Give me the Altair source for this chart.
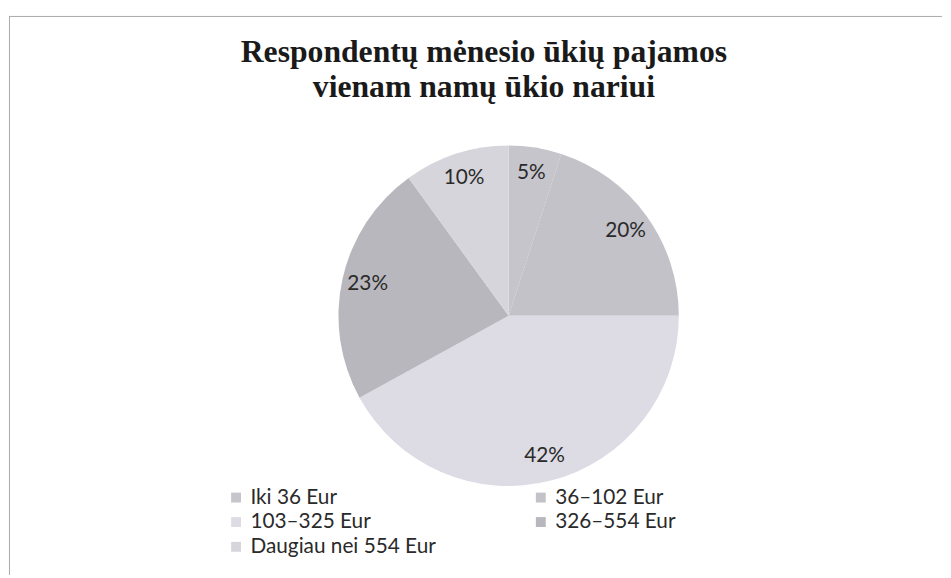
import altair as alt
import pandas as pd

categories = ["Iki 36 Eur", "36–102 Eur", "103–325 Eur", "326–554 Eur", "Daugiau nei 554 Eur"]
shares = [5, 20, 42, 23, 10]
colors = ["#c6c5cb", "#c3c2c8", "#dddbe4", "#b8b7bd", "#d6d5db"]
legend_order = ["Iki 36 Eur", "103–325 Eur", "Daugiau nei 554 Eur", "36–102 Eur", "326–554 Eur"]
title_lines = ["Respondentų mėnesio ūkių pajamos", "vienam namų ūkio nariui"]

df = pd.DataFrame({"cat": categories, "share": shares, "idx": list(range(len(categories)))})

W, H = 943, 570
CX, CY = 505, 308

base = alt.Chart(df)

color = alt.Color(
    "cat:N",
    scale=alt.Scale(domain=categories, range=colors),
    legend=alt.Legend(
        title=None,
        values=legend_order,
        orient="none",
        legendX=219,
        legendY=481,
        columns=2,
        columnPadding=95,
        rowPadding=3,
        symbolType="square",
        symbolSize=100,
        symbolStrokeWidth=0,
        labelFont="Lato",
        labelFontSize=21,
        labelColor="#2a2a2a",
        labelLimit=400,
    ),
)

pie = base.mark_arc(radius=172, x=CX, y=CY).encode(
    theta=alt.Theta("share:Q", stack=True),
    color=color,
    order=alt.Order("idx:Q"),
)

labels = base.transform_calculate(lbl="datum.share + '%'").mark_text(
    radius=146, x=CX, y=CY, font="Lato", fontSize=21, color="#2a2a2a"
).encode(
    theta=alt.Theta("share:Q", stack=True),
    order=alt.Order("idx:Q"),
    text="lbl:N",
)

tdf = pd.DataFrame({"t": title_lines, "row": [0, 1]})
title = alt.Chart(tdf).mark_text(
    font="Liberation Serif", fontSize=32, fontWeight="bold", color="#1a1a1a", baseline="alphabetic"
).encode(
    x=alt.value(480),
    y=alt.Y("row:Q", scale=alt.Scale(domain=[0, 1], range=[52, 87]), axis=None),
    text="t:N",
)

frame_top = alt.Chart(tdf.head(1)).mark_rule(color="#aaaaaa", strokeWidth=1).encode(
    x=alt.value(0), x2=alt.value(W), y=alt.value(5.5)
)
frame_left = alt.Chart(tdf.head(1)).mark_rule(color="#aaaaaa", strokeWidth=1).encode(
    x=alt.value(0.5), y=alt.value(5.5), y2=alt.value(H)
)

chart = alt.layer(frame_top, frame_left, pie, labels, title).properties(
    width=W, height=H, padding=0
).configure_view(stroke=None).resolve_scale(y="independent")

chart.save("out.html", embed_options={"renderer": "svg", "actions": False})
